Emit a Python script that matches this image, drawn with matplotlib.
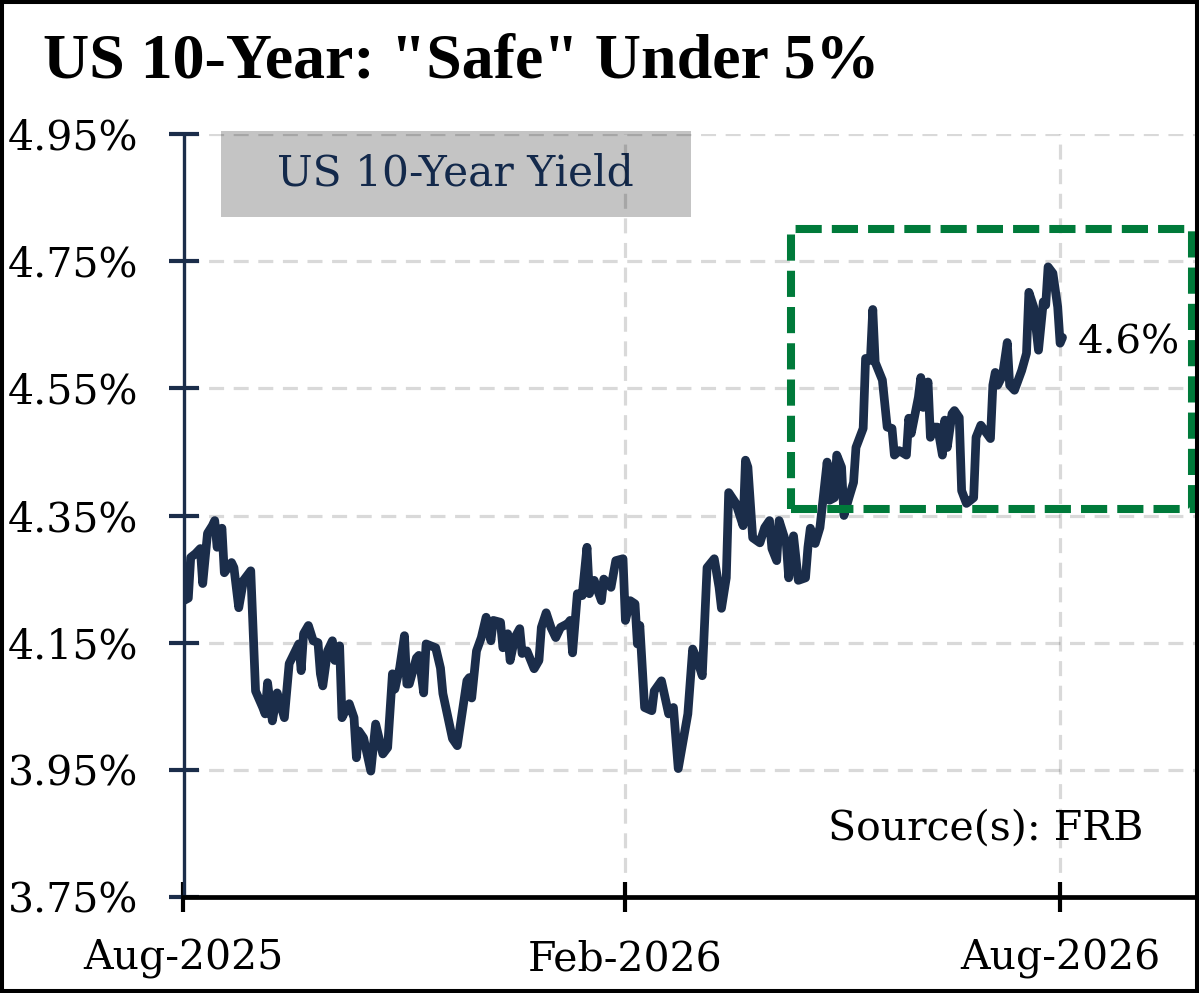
import matplotlib
matplotlib.use("Agg")
import matplotlib.pyplot as plt
import matplotlib.dates as mdates
import pandas as pd
from matplotlib.patches import Rectangle

# ---------------- data ----------------
dates = [
    "2025-08-01", "2025-08-03", "2025-08-04", "2025-08-06", "2025-08-08", "2025-08-09", "2025-08-11",
    "2025-08-13", "2025-08-14", "2025-08-15", "2025-08-17", "2025-08-18", "2025-08-21", "2025-08-22",
    "2025-08-24", "2025-08-26", "2025-08-29", "2025-08-31",
    "2025-09-03", "2025-09-04", "2025-09-05", "2025-09-07", "2025-09-09", "2025-09-12", "2025-09-14",
    "2025-09-18", "2025-09-19", "2025-09-20", "2025-09-22", "2025-09-24", "2025-09-26", "2025-09-27",
    "2025-09-28", "2025-09-30",
    "2025-10-02", "2025-10-03", "2025-10-05", "2025-10-06", "2025-10-08", "2025-10-09", "2025-10-11",
    "2025-10-12", "2025-10-13", "2025-10-15", "2025-10-18", "2025-10-20", "2025-10-23", "2025-10-25",
    "2025-10-27", "2025-10-28", "2025-10-30",
    "2025-11-01", "2025-11-02", "2025-11-03", "2025-11-06", "2025-11-07", "2025-11-09", "2025-11-10",
    "2025-11-14", "2025-11-16", "2025-11-17", "2025-11-21", "2025-11-23", "2025-11-27", "2025-11-28",
    "2025-11-29",
    "2025-12-01", "2025-12-03", "2025-12-05", "2025-12-07", "2025-12-08", "2025-12-11", "2025-12-12",
    "2025-12-14", "2025-12-15", "2025-12-17", "2025-12-19", "2025-12-20", "2025-12-22", "2025-12-25",
    "2025-12-27", "2025-12-28", "2025-12-30",
    "2026-01-01", "2026-01-03", "2026-01-05", "2026-01-08", "2026-01-09", "2026-01-10", "2026-01-12",
    "2026-01-14", "2026-01-16", "2026-01-17", "2026-01-19", "2026-01-22", "2026-01-23", "2026-01-26",
    "2026-01-28", "2026-01-31",
    "2026-02-01", "2026-02-03", "2026-02-05", "2026-02-06", "2026-02-07", "2026-02-09", "2026-02-12",
    "2026-02-13", "2026-02-16", "2026-02-19", "2026-02-21", "2026-02-23", "2026-02-27",
    "2026-03-01", "2026-03-03", "2026-03-05", "2026-03-07", "2026-03-10", "2026-03-12", "2026-03-13",
    "2026-03-15", "2026-03-16", "2026-03-19", "2026-03-22", "2026-03-23", "2026-03-24", "2026-03-26",
    "2026-03-29", "2026-03-31",
    "2026-04-02", "2026-04-03", "2026-04-05", "2026-04-06", "2026-04-09", "2026-04-10", "2026-04-12",
    "2026-04-14", "2026-04-17", "2026-04-18", "2026-04-19", "2026-04-21", "2026-04-23", "2026-04-26",
    "2026-04-27", "2026-04-29", "2026-04-30",
    "2026-05-02", "2026-05-03", "2026-05-05", "2026-05-07", "2026-05-08", "2026-05-11", "2026-05-12",
    "2026-05-14", "2026-05-15", "2026-05-16", "2026-05-19", "2026-05-21", "2026-05-23", "2026-05-24",
    "2026-05-26", "2026-05-29", "2026-05-30", "2026-05-31",
    "2026-06-03", "2026-06-04", "2026-06-05", "2026-06-07", "2026-06-08", "2026-06-09", "2026-06-11",
    "2026-06-13", "2026-06-14", "2026-06-15", "2026-06-17", "2026-06-18", "2026-06-20", "2026-06-21",
    "2026-06-23", "2026-06-26", "2026-06-27", "2026-06-29",
    "2026-07-03", "2026-07-04", "2026-07-05", "2026-07-06", "2026-07-08", "2026-07-10", "2026-07-11",
    "2026-07-13", "2026-07-16", "2026-07-18", "2026-07-19", "2026-07-21", "2026-07-23", "2026-07-25",
    "2026-07-26", "2026-07-27", "2026-07-29", "2026-07-31",
    "2026-08-01", "2026-08-02",
]

yields = [
    4.216, 4.220, 4.284, 4.290, 4.298, 4.243, 4.322,
    4.334, 4.342, 4.300, 4.330, 4.260, 4.276, 4.268,
    4.205, 4.248, 4.263, 4.074,
    4.048, 4.038, 4.087, 4.027, 4.071, 4.032, 4.117,
    4.148, 4.106, 4.164, 4.177, 4.153, 4.150, 4.101,
    4.082, 4.137,
    4.153, 4.122, 4.145, 4.032, 4.048, 4.054, 4.032,
    3.969, 4.011, 4.000, 3.948, 4.022, 3.975, 3.985,
    4.101, 4.077, 4.110,
    4.161, 4.085, 4.085, 4.126, 4.130, 4.071, 4.148,
    4.142, 4.110, 4.070, 3.999, 3.988, 4.090, 4.095,
    4.063,
    4.137, 4.158, 4.190, 4.153, 4.185, 4.182, 4.142,
    4.164, 4.122, 4.158, 4.172, 4.133, 4.137, 4.109,
    4.122, 4.174, 4.197,
    4.174, 4.158, 4.174, 4.180, 4.185, 4.134, 4.227,
    4.224, 4.300, 4.227, 4.248, 4.216, 4.250, 4.237,
    4.279, 4.282,
    4.185, 4.216, 4.211, 4.148, 4.177, 4.048, 4.043,
    4.074, 4.090, 4.038, 4.048, 3.952, 4.038,
    4.140, 4.122, 4.098, 4.268, 4.282, 4.237, 4.204,
    4.252, 4.386, 4.369, 4.334, 4.437, 4.426, 4.315,
    4.307, 4.331,
    4.342, 4.298, 4.279, 4.342, 4.306, 4.252, 4.318,
    4.248, 4.252, 4.300, 4.330, 4.306, 4.331, 4.434,
    4.374, 4.378, 4.445,
    4.426, 4.350, 4.377, 4.402, 4.457, 4.487, 4.597,
    4.594, 4.674, 4.591, 4.563, 4.489, 4.487, 4.445,
    4.452, 4.445, 4.503, 4.479,
    4.536, 4.567, 4.520, 4.560, 4.473, 4.489, 4.489,
    4.445, 4.500, 4.457, 4.510, 4.515, 4.504, 4.389,
    4.369, 4.378, 4.473, 4.492,
    4.471, 4.555, 4.575, 4.555, 4.570, 4.622, 4.555,
    4.547, 4.578, 4.605, 4.701, 4.678, 4.610, 4.686,
    4.681, 4.741, 4.731, 4.678,
    4.621, 4.630,
]

y_ticks = [3.75, 3.95, 4.15, 4.35, 4.55, 4.75, 4.95]
x_tick_dates = ["2025-08-01", "2026-02-01", "2026-08-01"]
x_tick_labels = ["Aug-2025", "Feb-2026", "Aug-2026"]
x_limits = ["2025-08-01", "2026-09-27"]

box_dates = ["2026-04-11", "2026-09-25"]
box_yields = [4.36, 4.80]

title = 'US 10-Year: "Safe" Under 5%'
series_name = "US 10-Year Yield"
source_text = "Source(s): FRB"

# ---------------- styling ----------------
NAVY = "#1B2D4A"
GREEN = "#007A3A"
plt.rcParams["font.family"] = ["DejaVu Serif"]

W, H = 1199, 993
fig = plt.figure(figsize=(W / 100, H / 100), dpi=100)
ax = fig.add_axes([183.5 / W, 96 / H, (1197 - 183.5) / W, (897 - 134) / H])

x = pd.to_datetime(dates)
ax.plot(x, yields, color=NAVY, lw=6.3, solid_joinstyle="round",
        solid_capstyle="round", zorder=3)

ax.set_ylim(y_ticks[0], y_ticks[-1])
ax.set_yticks(y_ticks)
ax.set_yticklabels([f"{v:.2f}%" for v in y_ticks])
ax.set_xlim(pd.to_datetime(x_limits[0]), pd.to_datetime(x_limits[1]))
ax.set_xticks(pd.to_datetime(x_tick_dates))
ax.set_xticklabels(x_tick_labels)

ax.set_axisbelow(True)
ax.grid(True, color="black", alpha=0.15, lw=2.3, linestyle=(0, (4.7, 3.0)))

for s in ("top", "right"):
    ax.spines[s].set_visible(False)
ax.spines["left"].set_color(NAVY)
ax.spines["left"].set_linewidth(2.4)
ax.spines["bottom"].set_color("black")
ax.spines["bottom"].set_linewidth(3.4)

ax.tick_params(axis="y", direction="inout", length=21, width=3, color=NAVY,
               pad=22, labelsize=29.5, labelcolor="black")
ax.tick_params(axis="x", direction="inout", length=21, width=3, color="black",
               pad=20, labelsize=29.5, labelcolor="black")

# green highlight box
bx0 = mdates.date2num(pd.to_datetime(box_dates[0]))
bx1 = mdates.date2num(pd.to_datetime(box_dates[1]))
ax.add_patch(Rectangle((bx0, box_yields[0]), bx1 - bx0, box_yields[1] - box_yields[0],
                       fill=False, edgecolor=GREEN, lw=5.8,
                       linestyle=(0, (3.25, 1.25)), joinstyle="miter",
                       zorder=4, clip_on=False))

# legend-like label box
ax.add_patch(Rectangle((221 / W, 1 - 216.5 / H), 469.5 / W, 85.5 / H,
                       transform=fig.transFigure, facecolor="#C4C4C4",
                       edgecolor="none", zorder=0.2, clip_on=False))
ax.text(455.5 / W, 1 - 174 / H, series_name, transform=fig.transFigure,
        ha="center", va="center", color="#13294B", fontsize=30.5, zorder=0.3)

# end label
ax.annotate(f"{yields[-1]:.1f}%", xy=(x[-1], yields[-1]), xytext=(11, -4),
            textcoords="offset points", ha="left", va="center",
            fontsize=29, color="black", zorder=5)

# title and source
fig.text(43 / W, 1 - 78 / H, title, fontsize=46, fontweight="bold",
         family=["Liberation Serif", "DejaVu Serif"], va="baseline", ha="left")
fig.text(828 / W, 1 - 829 / H, source_text, fontsize=29.5, va="center", ha="left")

# outer frame
fig.add_artist(Rectangle((0, 0), 1, 1, transform=fig.transFigure, fill=False,
                         edgecolor="black", lw=5.8, zorder=10))

fig.savefig("out.png", dpi=100)
